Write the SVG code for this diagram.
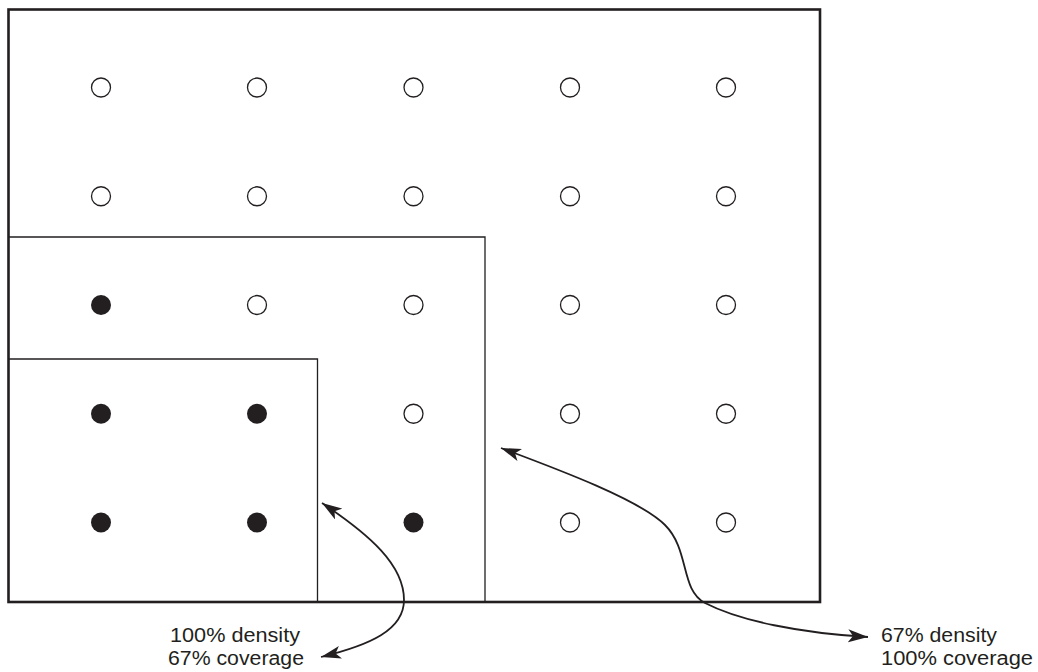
<svg xmlns="http://www.w3.org/2000/svg" width="1038" height="672" viewBox="0 0 1038 672">
<style>
.frame{fill:none;stroke:#231f20;stroke-width:2.6}
.region{fill:none;stroke:#231f20;stroke-width:1.3}
.off{fill:#fff;stroke:#231f20;stroke-width:1.3}
.on{fill:#231f20;stroke:none}
.conn{fill:none;stroke:#231f20;stroke-width:1.8}
.lbl{font-family:"Liberation Sans","Open Sans",sans-serif;font-size:20px;fill:#231f20}
</style>
<defs>
<marker id="ah" markerUnits="userSpaceOnUse" markerWidth="22" markerHeight="14" refX="20" refY="6.5" orient="auto-start-reverse" viewBox="0 0 22 14">
<path d="M0,0 L20,6.5 L0,13 L5,6.5 z" fill="#231f20"/>
</marker>
<circle id="dotOff" r="9.5" class="off"/>
<circle id="dotOn" r="10" class="on"/>
</defs>
<rect width="1038" height="672" fill="#fff"/>
<g id="frame">
<rect class="frame" x="8.5" y="9.5" width="811.5" height="592.5"/>
</g>
<g id="region-67-density">
<polyline class="region" points="8.5,237 485,237 485,602"/>
</g>
<g id="region-100-density">
<polyline class="region" points="8.5,359 317.5,359 317.5,602"/>
</g>
<g id="dots">
<use href="#dotOff" x="101" y="87.5"/><use href="#dotOff" x="257" y="87.5"/><use href="#dotOff" x="413.5" y="87.5"/><use href="#dotOff" x="570" y="87.5"/><use href="#dotOff" x="726" y="87.5"/>
<use href="#dotOff" x="101" y="196.25"/><use href="#dotOff" x="257" y="196.25"/><use href="#dotOff" x="413.5" y="196.25"/><use href="#dotOff" x="570" y="196.25"/><use href="#dotOff" x="726" y="196.25"/>
<use href="#dotOn" x="101" y="305"/><use href="#dotOff" x="257" y="305"/><use href="#dotOff" x="413.5" y="305"/><use href="#dotOff" x="570" y="305"/><use href="#dotOff" x="726" y="305"/>
<use href="#dotOn" x="101" y="413.75"/><use href="#dotOn" x="257" y="413.75"/><use href="#dotOff" x="413.5" y="413.75"/><use href="#dotOff" x="570" y="413.75"/><use href="#dotOff" x="726" y="413.75"/>
<use href="#dotOn" x="101" y="522.5"/><use href="#dotOn" x="257" y="522.5"/><use href="#dotOn" x="413.5" y="522.5"/><use href="#dotOff" x="570" y="522.5"/><use href="#dotOff" x="726" y="522.5"/>
</g>
<g id="connectors">
<path class="conn" marker-start="url(#ah)" marker-end="url(#ah)" d="M322,503 C370,535 404,565 404,600 C404,630 370,645 321,657"/>
<path class="conn" marker-start="url(#ah)" marker-end="url(#ah)" d="M501,448 C560,470 640,500 665,525 C690,550 680,590 705,603 C740,621 800,633 868,637"/>
</g>
<g id="label-left">
<text class="lbl" x="170" y="642" textLength="130" lengthAdjust="spacingAndGlyphs">100% density</text>
<text class="lbl" x="168" y="665" textLength="136" lengthAdjust="spacingAndGlyphs">67% coverage</text>
</g>
<g id="label-right">
<text class="lbl" x="881" y="642" textLength="116" lengthAdjust="spacingAndGlyphs">67% density</text>
<text class="lbl" x="881" y="665" textLength="152" lengthAdjust="spacingAndGlyphs">100% coverage</text>
</g>
</svg>
